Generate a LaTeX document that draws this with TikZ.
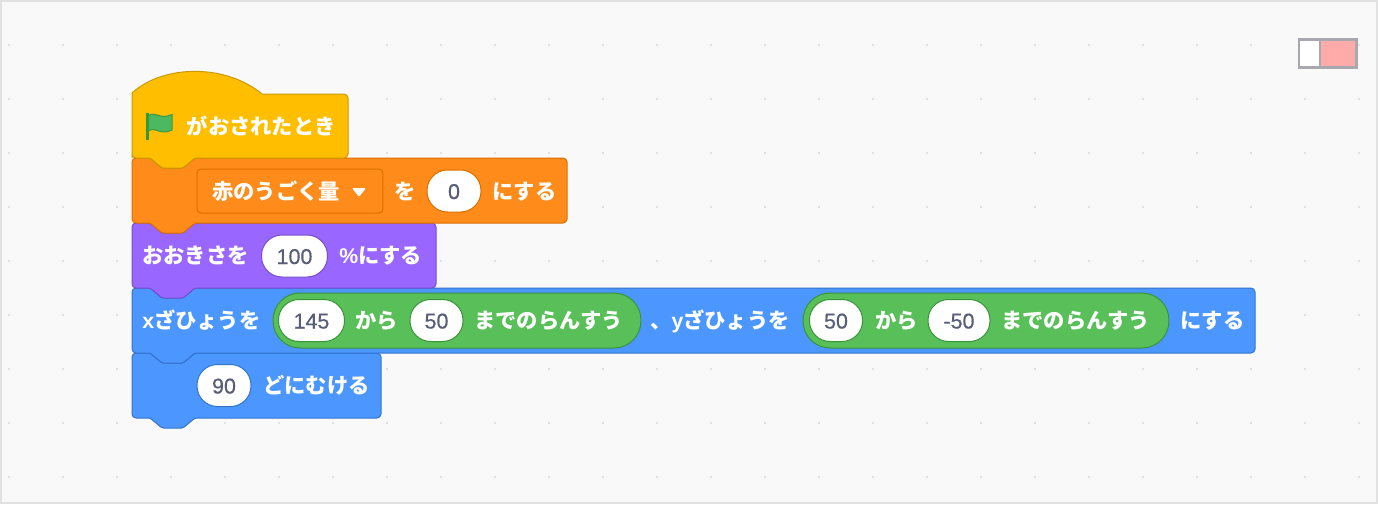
\documentclass[tikz,border=0pt]{standalone}
\usepackage{fontspec}
\newfontfamily\jpfont{Noto Sans CJK JP}
\newfontfamily\latinfont{Liberation Sans}
\newfontfamily\numfont[FakeBold=0.5]{Liberation Sans}
\definecolor{pagebg}{HTML}{F9F9F9}
\definecolor{pageframe}{HTML}{E2E2E2}
\definecolor{griddot}{HTML}{D9D9E6}
\definecolor{hatfill}{HTML}{FFBF00}
\definecolor{hatline}{HTML}{CC9900}
\definecolor{varfill}{HTML}{FF8C1A}
\definecolor{varline}{HTML}{DB6E00}
\definecolor{looksfill}{HTML}{9966FF}
\definecolor{looksline}{HTML}{774DCB}
\definecolor{motionfill}{HTML}{4C97FF}
\definecolor{motionline}{HTML}{3373CC}
\definecolor{opfill}{HTML}{59C059}
\definecolor{opline}{HTML}{389438}
\definecolor{numtext}{HTML}{575E75}
\definecolor{flagfill}{HTML}{4CB860}
\definecolor{togglegray}{HTML}{A8A8AE}
\definecolor{togglered}{HTML}{FFABA9}
\tikzset{
  blocktext/.style={text=white,anchor=west,inner sep=0pt,text height=0.34cm,text depth=0.04cm,
    font=\jpfont\bfseries\fontsize{12.1}{14}\selectfont},
  numpill/.style={draw=#1,fill=white,line width=0.02cm,rounded corners=0.41cm,inner sep=0pt,
    minimum height=0.84cm,text=numtext,text height=0.36cm,text depth=0.04cm,
    font=\numfont\fontsize{12.2}{14}\selectfont},
  oppill/.style={draw=opline,fill=opfill,line width=0.02cm,rounded corners=0.54cm,inner sep=0pt,
    minimum height=1.1cm},
  dropbox/.style={draw=varline,fill=varfill,line width=0.02cm,rounded corners=0.08cm,inner sep=0pt,
    minimum height=0.88cm},
  blockedge/.style n args={2}{draw=#2,fill=#1,line width=0.02cm,rounded corners=0.08cm}
}
\newcommand{\stackblock}[4]{
  \draw[blockedge={#1}{#2}] (132,#3) [rounded corners=0.03cm] -- (150,#3) -- (162,#3+10) -- (183,#3+10) -- (195,#3)
    [rounded corners=0.08cm] -- (#4,#3) -- (#4,#3+65) [rounded corners=0.03cm] -- (195,#3+65) -- (183,#3+75) -- (162,#3+75) -- (150,#3+65)
    [rounded corners=0.08cm] -- (132,#3+65) -- cycle;
}

\begin{document}
\begin{tikzpicture}[x=0.02cm,y=-0.02cm]
  \useasboundingbox (0,0) rectangle (1378,504);
  \draw[pageframe,fill=pagebg,line width=0.04cm] (1,1) rectangle (1377,503);

  \foreach \i in {0,...,25}
    \foreach \j in {0,...,8}
      \fill[griddot] (9+54*\i,45+54*\j) circle [radius=1.1];

  % toggle
  \fill[togglegray] (1297.5,38) rectangle (1358,69);
  \fill[white] (1300,41) rectangle (1319,66);
  \fill[togglered] (1321,41) rectangle (1355,66);

  % stack, last block first so each tab lies on the next block
  \stackblock{motionfill}{motionline}{353}{381}
  \stackblock{motionfill}{motionline}{288}{1255}
  \stackblock{looksfill}{looksline}{223}{436}
  \stackblock{varfill}{varline}{158}{567}

  \draw[blockedge={hatfill}{hatline}] (132,158)
    [sharp corners] -- (132,93) .. controls (164,64) and (226,64) .. (262,94)
    [rounded corners=0.08cm] -- (348,94) -- (348,158) [rounded corners=0.03cm] -- (195,158) -- (183,168) -- (162,168)
    -- (150,158) [rounded corners=0.08cm] -- (132,158) -- (132,130);

  % flag
  \fill[opline] (146,113) rectangle (148.5,140);
  \draw[fill=flagfill,draw=opline!80!flagfill,line width=0.02cm] (148.5,115.5)
    .. controls (155,111) and (160,120) .. (172,114.5)
    -- (172,130)
    .. controls (160,136) and (155,126) .. (148.5,131)
    -- cycle;
  \node[blocktext] (whenflag) at (186.5,127) {がおされたとき};

  % set variable
  \node[dropbox,minimum width=3.72cm] (varmenu) at (290,191) {};
  \node[blocktext] (varname) at (212,192) {赤のうごく量};
  \fill[white,rounded corners=0.02cm] (352,188) -- (366,188) -- (359,197) -- cycle;
  \node[blocktext] (setto) at (394,192) {を};
  \node[numpill=varline,minimum width=1.08cm] (varvalue) at (454,191) {0};
  \node[blocktext] (setend) at (492,192) {にする};

  % size
  \node[blocktext] (sizelabel) at (142,256) {おおきさを};
  \node[numpill=looksline,minimum width=1.32cm] (sizevalue) at (294.5,256) {100};
  \node[blocktext] (sizeend) at (339,256) {{\latinfont\%}にする};

  % go to x y
  \node[blocktext] (xlabel) at (142,321) {{\latinfont x}ざひょうを};
  \node[oppill,minimum width=7.36cm] (xrandom) at (457,320.5) {};
  \node[numpill=opline,minimum width=1.32cm] (xfrom) at (311.5,320.5) {145};
  \node[blocktext] (xkara) at (355,321) {から};
  \node[numpill=opline,minimum width=1.06cm] (xto) at (436.5,320.5) {50};
  \node[blocktext] (xmade) at (474,321) {までのらんすう};
  \node[blocktext] (ylabel) at (650,321) {、{\latinfont y}ざひょうを};
  \node[oppill,minimum width=7.32cm] (yrandom) at (986,320.5) {};
  \node[numpill=opline,minimum width=1.06cm] (yfrom) at (836,320.5) {50};
  \node[blocktext] (ykara) at (875,321) {から};
  \node[numpill=opline,minimum width=1.24cm] (yto) at (959,320.5) {-50};
  \node[blocktext] (ymade) at (1001,321) {までのらんすう};
  \node[blocktext] (goend) at (1180,321) {にする};

  % point in direction
  \node[numpill=motionline,minimum width=1.08cm] (dirvalue) at (224,385.5) {90};
  \node[blocktext] (dirlabel) at (263,386) {どにむける};

\end{tikzpicture}
\end{document}
